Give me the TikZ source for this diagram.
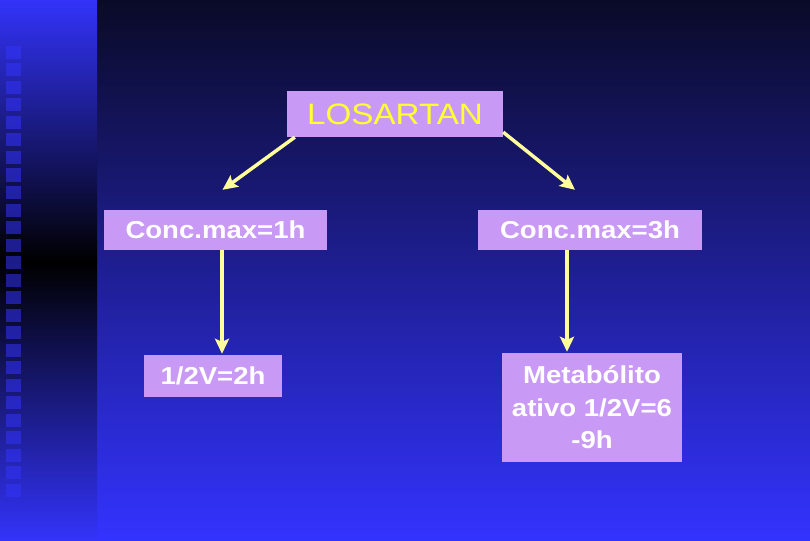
\documentclass[tikz,border=0pt]{standalone}
\usepackage{fontspec}
\setmainfont{Liberation Sans}
\newfontfamily\wideface[FakeStretch=1.125]{Liberation Sans}
\usetikzlibrary{arrows.meta}
\definecolor{bgtop}{RGB}{10,10,40}
\definecolor{bgmid}{RGB}{36,36,168}
\definecolor{bgbot}{RGB}{51,51,255}
\definecolor{stripblue}{RGB}{51,51,250}
\definecolor{boxfill}{RGB}{200,154,245}
\definecolor{titleyellow}{RGB}{255,255,51}
\definecolor{arrowyellow}{RGB}{255,255,153}
\tikzset{box/.style={fill=boxfill, inner sep=0pt, text=white,
                     font=\wideface\fontsize{24.5}{32.5}\selectfont\bfseries, align=center},
         titlebox/.style={box, text=titleyellow, font=\wideface\fontsize{29.5}{34}\selectfont},
         link/.style={->, draw=arrowyellow, line width=3.5pt},
         sq/.style={fill=stripblue, opacity=0.55}}

\begin{document}
\begin{tikzpicture}[x=1pt, y=-1pt, >={Stealth[length=15pt,width=14pt,inset=3pt]}]
	\useasboundingbox (0,0) rectangle (810,540);
	% background
	\shade[top color=bgtop, middle color=bgmid, bottom color=bgbot] (97,0) rectangle (810,540);
	\shade[top color=stripblue, bottom color=black] (0,0) rectangle (97,262);
	\shade[top color=black, bottom color=stripblue] (0,262) rectangle (97,540);
	\foreach \k in {0,...,25}
		\fill[sq] (6,46+17.5*\k) rectangle ++(15,13);

	\node[titlebox, minimum width=216pt, minimum height=46pt] (los) at (395,114) {LOSARTAN};
	\node[box, minimum width=223pt, minimum height=40pt] (cmax1) at (215.5,230) {Conc.max=1h};
	\node[box, minimum width=224pt, minimum height=40pt] (cmax3) at (590,230) {Conc.max=3h};
	\node[box, minimum width=138pt, minimum height=42pt] (half1) at (213,376) {1/2V=2h};
	\node[box, minimum width=180pt, minimum height=109pt] (meta) at (592,407.5) {Metabólito\\ativo 1/2V=6\\-9h};

	\draw[link] ([xshift=8pt]los.south west) -- ([xshift=7pt,yshift=20pt]cmax1.north);
	\draw[link] ([yshift=5pt]los.south east) -- ([xshift=-15pt,yshift=20pt]cmax3.north);
	\draw[link] ([xshift=6.5pt]cmax1.south) -- ([xshift=9pt,yshift=1pt]half1.north);
	\draw[link] ([xshift=-23pt]cmax3.south) -- ([xshift=-25pt,yshift=1pt]meta.north);
\end{tikzpicture}
\end{document}
